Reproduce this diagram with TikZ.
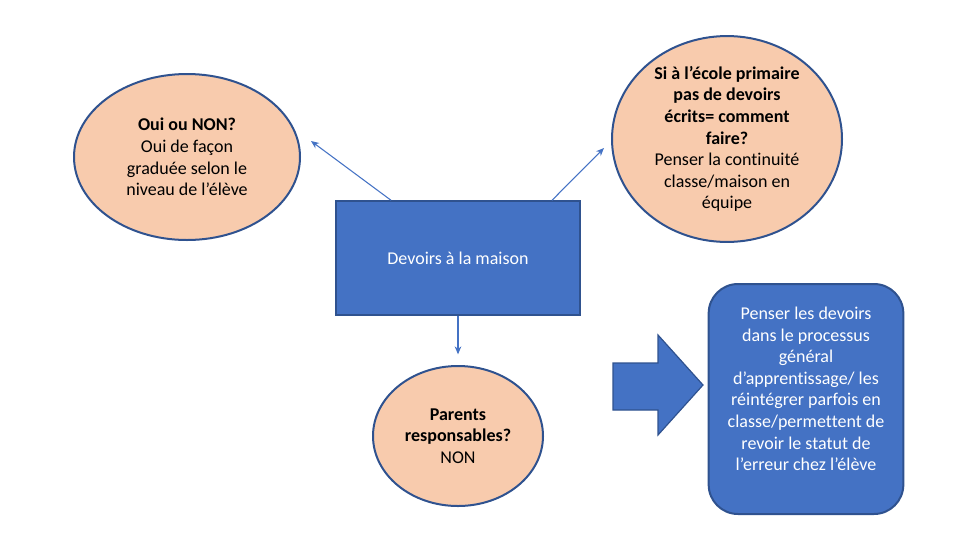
\documentclass[tikz,border=0pt]{standalone}
\usepackage{fontspec}
\setmainfont[Ligatures=NoCommon]{Carlito}
\usetikzlibrary{shapes.geometric,arrows.meta}

\definecolor{peach}{HTML}{F8CBAD}
\definecolor{bleu}{HTML}{4472C4}
\definecolor{bleufonce}{HTML}{2F528F}

\tikzset{
  bulle/.style={ellipse, draw=bleufonce, line width=1.5pt, fill=peach, inner sep=0pt, align=center, font=\fontsize{13.5}{16.2}\selectfont},
  boite/.style={rectangle, draw=bleufonce, line width=1.1pt, fill=bleu, inner sep=0pt, align=center, text=white, font=\fontsize{13.5}{16.2}\selectfont},
  fleche/.style={draw=bleu, line width=0.8pt, -{Stealth[length=6pt,width=5pt]}}
}

\begin{document}
\begin{tikzpicture}[x=0.75pt,y=0.75pt,yscale=-1,xscale=1]
\useasboundingbox (0,0) rectangle (960,540);

% Rectangle
\node [boite, minimum width=183pt, minimum height=85.5pt] (devoirs) at (458,258) {Devoirs à la maison};

% Ellipses
\node [bulle, minimum width=169.5pt, minimum height=124.5pt] (ouinon) at (187,157) {\textbf{Oui ou NON?}\\Oui de façon\\graduée selon le\\niveau de l’élève};
\node [bulle, minimum width=172.5pt, minimum height=140pt] (primaire) at (727,139) {\textbf{Si à l’école primaire}\\\textbf{pas de devoirs}\\\textbf{écrits= comment}\\\textbf{faire?}\\Penser la continuité\\classe/maison en\\équipe};
\node [bulle, minimum width=127.5pt, minimum height=105pt] (parents) at (458,436) {\textbf{Parents}\\\textbf{responsables?}\\NON};

% Rounded rectangle
\node [boite, rounded corners=22pt, line width=1.5pt, minimum width=146pt, minimum height=172.5pt] (penser) at (806,399) {};
\node [text=white, align=center, font=\fontsize{13.5}{16.2}\selectfont] (penserTxt) at (806,389) {Penser les devoirs\\dans le processus\\général\\d’apprentissage/ les\\réintégrer parfois en\\classe/permettent de\\revoir le statut de\\l’erreur chez l’élève};

% Connectors
\coordinate (tipL) at (311,141);
\coordinate (tipR) at (604,148);
\draw [fleche] ([xshift=-50.25pt]devoirs.north) -- (tipL);
\draw [fleche] ([xshift=70.5pt]devoirs.north) -- (tipR);
\draw [fleche] (devoirs.south) -- ([yshift=-8pt]parents.north);

% Block arrow
\draw [draw=bleufonce, line width=0.9pt, fill=bleu] (613,363) -- (658,363) -- (658,335) -- (703,385) -- (658,435) -- (658,410) -- (613,410) -- cycle;

\end{tikzpicture}
\end{document}
